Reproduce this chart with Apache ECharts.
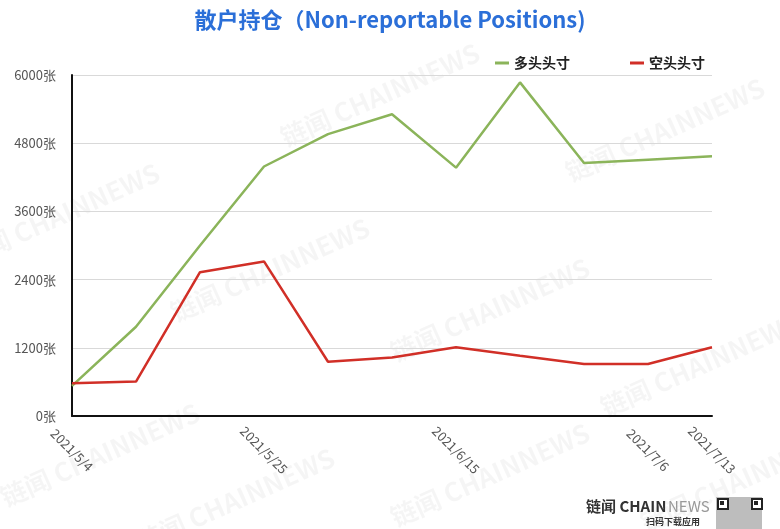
<!DOCTYPE html>
<html>
<head>
<meta charset="utf-8">
<script src="https://cdn.jsdelivr.net/npm/echarts@6/dist/echarts.min.js"></script>
<style>
html,body{margin:0;padding:0;background:#fff;}
#c{width:780px;height:529px;}
</style>
</head>
<body>
<div id="c"></div>
<script>
const dates = ['2021/5/4','2021/5/11','2021/5/18','2021/5/25','2021/6/1','2021/6/8','2021/6/15','2021/6/22','2021/6/29','2021/7/6','2021/7/13'];
const longPos = [530,1570,3000,4390,4960,5310,4370,5870,4450,4510,4570];
const shortPos = [575,605,2530,2720,955,1030,1210,1060,915,915,1210];
const shownLabelIdx = [0,3,6,9,10];
const yTicks = [0,1200,2400,3600,4800,6000];
const yUnit = '张';

const FONT = '"Noto Sans CJK SC","Noto Sans",sans-serif';
const wm = [
  [380,95],[60,215],[270,270],[490,310],[665,130],[700,365],[100,455],[235,500],[490,475],[740,480]
].map(p => ({
  type:'text', x:p[0], y:p[1], rotation:0.42, silent:true, z:-1,
  style:{text:'链闻 CHAINNEWS', fill:'rgba(0,0,0,0.04)', font:'bold 26px '+FONT, align:'center', verticalAlign:'middle'}
}));

const qr = [
  {type:'rect', left:716, top:497, silent:true, shape:{width:46, height:32}, style:{fill:'#bdbdbd'}},
  {type:'rect', left:717, top:498, silent:true, shape:{width:10, height:10}, style:{fill:'#fff', stroke:'#222', lineWidth:2}},
  {type:'rect', left:751, top:498, silent:true, shape:{width:10, height:10}, style:{fill:'#fff', stroke:'#222', lineWidth:2}},
  {type:'rect', left:720, top:501, silent:true, shape:{width:4, height:4}, style:{fill:'#222'}},
  {type:'rect', left:754, top:501, silent:true, shape:{width:4, height:4}, style:{fill:'#222'}}
];

const chart = echarts.init(document.getElementById('c'));
chart.setOption({
  animation:false,
  backgroundColor:'#fff',
  textStyle:{fontFamily:FONT},
  title:{
    text:'散户持仓（Non-reportable Positions)',
    left:'center', top:4,
    textStyle:{color:'#2b6fd8', fontSize:22, fontWeight:'bold', fontFamily:FONT}
  },
  legend:{
    right:70, top:51,
    icon:'rect', itemWidth:14, itemHeight:3, itemGap:60,
    textStyle:{color:'#222', fontSize:14, fontWeight:'bold', fontFamily:FONT},
    data:['多头头寸','空头头寸']
  },
  grid:{left:72, right:68, top:75, bottom:113, containLabel:false},
  xAxis:{
    type:'category', data:dates, boundaryGap:false,
    axisLine:{lineStyle:{color:'#111', width:2}},
    axisTick:{show:false},
    axisLabel:{
      interval:(i)=>shownLabelIdx.indexOf(i)>=0,
      rotate:-45, align:'center', verticalAlign:'middle', margin:34,
      color:'#555', fontSize:13, fontFamily:FONT
    },
    splitLine:{show:false}
  },
  yAxis:{
    type:'value', min:yTicks[0], max:yTicks[yTicks.length-1], interval:1200,
    axisLine:{show:true, lineStyle:{color:'#111', width:2}},
    axisTick:{show:false},
    axisLabel:{formatter:(v)=>String(v)+yUnit, color:'#555', fontSize:13, margin:16, fontFamily:FONT},
    splitLine:{lineStyle:{color:'#d9d9d9', width:1}}
  },
  series:[
    {name:'多头头寸', type:'line', data:longPos, showSymbol:false, symbol:'none',
     lineStyle:{color:'#8bb45a', width:2.5}, itemStyle:{color:'#8bb45a'}},
    {name:'空头头寸', type:'line', data:shortPos, showSymbol:false, symbol:'none',
     lineStyle:{color:'#d12f27', width:2.5}, itemStyle:{color:'#d12f27'}}
  ],
  graphic:wm.concat([
    {type:'text', left:586, top:499, silent:true,
     style:{text:'链闻 CHAIN', fill:'#333', font:'bold 15px '+FONT}},
    {type:'text', left:668, top:499, silent:true,
     style:{text:'NEWS', fill:'#999', font:'15px '+FONT}},
    {type:'text', left:646, top:517, silent:true,
     style:{text:'扫码下载应用', fill:'#333', font:'bold 9px '+FONT}}
  ]).concat(qr)
});
</script>
</body>
</html>
